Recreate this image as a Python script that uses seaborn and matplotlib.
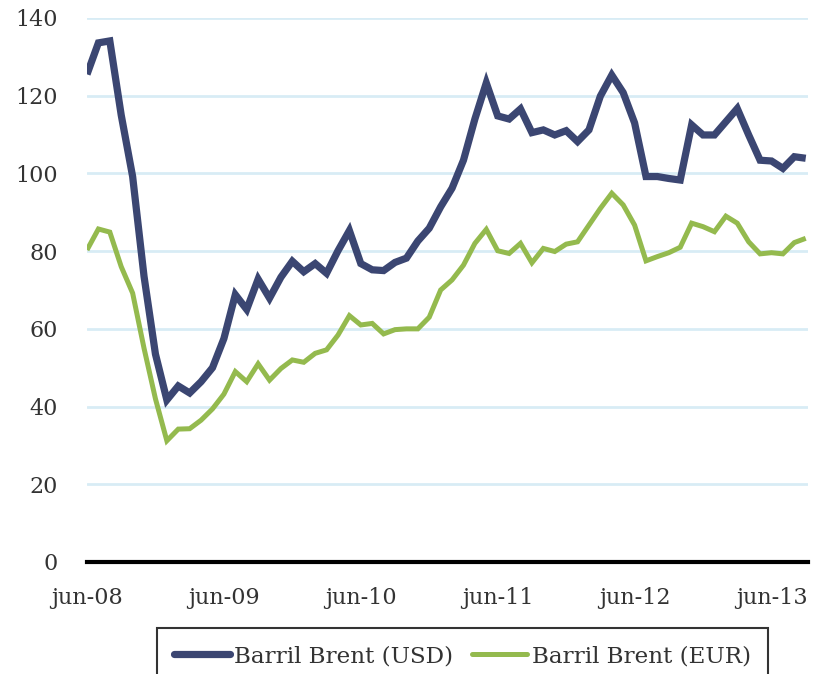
import numpy as np
import pandas as pd
import matplotlib
matplotlib.use("Agg")
import matplotlib.pyplot as plt
import seaborn as sns
from matplotlib.lines import Line2D

# ---- data (monthly) ----
usd = [125.5, 133.6, 134.1, 115.0, 99.2, 73.5, 53.5, 41.7, 45.3, 43.5,
       46.4, 50.0, 57.5, 68.8, 65.0, 72.8, 67.9, 73.3, 77.4, 74.7,
       76.8, 74.3, 80.1, 85.3, 76.8, 75.2, 75.0, 77.1, 78.2, 82.6,
       85.9, 91.4, 96.2, 103.4, 114.0, 123.3, 114.8, 114.0, 116.6, 110.5,
       111.2, 109.9, 111.0, 108.2, 111.2, 119.9, 125.3, 120.8, 113.0, 99.2,
       99.2, 98.7, 98.3, 112.5, 109.9, 109.9, 113.3, 116.7, 109.9, 103.4,
       103.2, 101.3, 104.3, 103.9]
eur = [80.3, 85.7, 84.9, 76.0, 69.2, 55.0, 42.0, 31.2, 34.2, 34.3,
       36.5, 39.4, 43.2, 49.0, 46.4, 51.0, 46.8, 49.8, 52.0, 51.4,
       53.7, 54.6, 58.4, 63.4, 61.0, 61.4, 58.7, 59.8, 60.0, 60.0,
       63.0, 70.0, 72.6, 76.4, 82.0, 85.6, 80.1, 79.4, 82.0, 77.0,
       80.7, 79.9, 81.8, 82.4, 86.7, 91.0, 94.9, 91.9, 86.7, 77.5,
       78.6, 79.6, 81.0, 87.2, 86.3, 85.0, 89.0, 87.2, 82.4, 79.3,
       79.6, 79.3, 82.2, 83.3]
series_names = ["Barril Brent (USD)", "Barril Brent (EUR)"]
tick_labels = ["jun-08", "jun-09", "jun-10", "jun-11", "jun-12", "jun-13"]
y_ticks = [0, 20, 40, 60, 80, 100, 120, 140]

month = np.arange(len(usd))
df = pd.DataFrame({
    "mes": np.concatenate([month, month]),
    "precio": usd + eur,
    "serie": [series_names[0]] * len(usd) + [series_names[1]] * len(eur),
})

sns.set_theme(style="white")
plt.rcParams["font.family"] = ["DejaVu Serif"]

fig = plt.figure(figsize=(8.18, 6.74), dpi=100)
ax = fig.add_axes([87 / 818, 1 - 562 / 674, (808 - 87) / 818, (562 - 18) / 674])

colors = {series_names[0]: "#3B4672", series_names[1]: "#94BA4E"}
sns.lineplot(data=df, x="mes", y="precio", hue="serie", palette=colors,
             ax=ax, legend=False, sort=False)
lines = ax.get_lines()
lines[0].set_linewidth(5.2)
lines[1].set_linewidth(3.6)
for ln in lines:
    ln.set_solid_joinstyle("miter")
    ln.set_solid_capstyle("butt")
lines[0].set_zorder(4)
lines[1].set_zorder(3)

ax.set_xlim(0, 63.2)
ax.set_ylim(0, 140)
ax.set_yticks(y_ticks)
ax.set_yticklabels([str(v) for v in y_ticks])
ax.set_xticks(np.arange(0, 61, 12))
ax.set_xticklabels(tick_labels)
ax.set_xlabel("")
ax.set_ylabel("")

for v in y_ticks[1:]:
    ax.axhline(v, color="#D8ECF5", linewidth=2.0, zorder=1)

for s in ["top", "right", "left"]:
    ax.spines[s].set_visible(False)
ax.spines["bottom"].set_color("black")
ax.spines["bottom"].set_linewidth(3.0)
ax.spines["bottom"].set_zorder(5)

ax.tick_params(axis="both", length=0, labelsize=16, colors="#333333")
ax.tick_params(axis="y", pad=21)
ax.tick_params(axis="x", pad=18)

handles = [Line2D([], [], color=colors[series_names[0]], linewidth=5.2),
           Line2D([], [], color=colors[series_names[1]], linewidth=3.6)]
leg = fig.legend(handles, series_names, loc="upper left",
                 bbox_to_anchor=(157 / 818, 1 - 628 / 674), borderaxespad=0,
                 ncol=2, fontsize=16.6, frameon=True, fancybox=False,
                 handlelength=2.4, handletextpad=0.2, columnspacing=0.8,
                 borderpad=0.75)
leg.get_frame().set_edgecolor("black")
leg.get_frame().set_linewidth(1.5)
for t in leg.get_texts():
    t.set_color("#333333")

fig.savefig("out.png", dpi=100)
